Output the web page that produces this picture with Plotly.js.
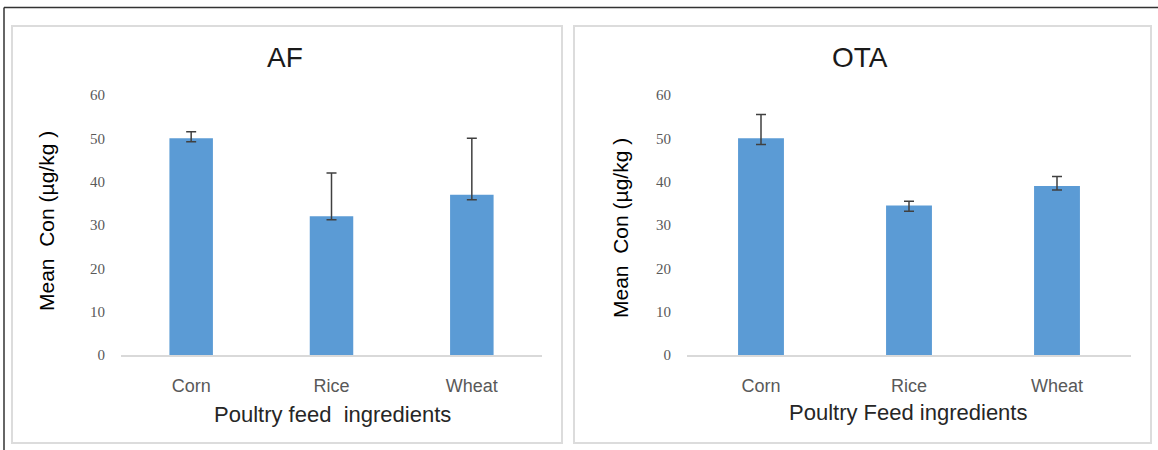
<!DOCTYPE html>
<html>
<head>
<meta charset="utf-8">
<script src="https://cdn.plot.ly/plotly-3.0.1.min.js"></script>
<style>html,body{margin:0;padding:0;background:#fff;}#chart{width:1158px;height:450px;}</style>
</head>
<body>
<div id="chart"></div>
<script>
// Data
const categories = ["Corn", "Rice", "Wheat"];
const afValues = [50, 32, 37];
const afErrPlus = [1.5, 10, 13];
const afErrMinus = [0.8, 0.8, 1.2];
const otaValues = [50, 34.5, 39];
const otaErrPlus = [5.5, 1, 2.2];
const otaErrMinus = [1.4, 1.3, 0.9];
const yTicks = [0, 10, 20, 30, 40, 50, 60];
const panelTitles = ["AF", "OTA"];
const xTitles = ["Poultry feed\u00a0 ingredients", "Poultry Feed ingredients"];
const yTitle = "Mean\u00a0 Con (\u00b5g/kg )";

const W = 1158, H = 450;
const px = v => v / W;
const py = v => 1 - v / H;

const barColor = "#5b9bd5";
const errStyle = {type: "data", symmetric: false, color: "#404040", thickness: 1.5, width: 5};

const traces = [
  {type: "bar", x: categories, y: afValues, xaxis: "x", yaxis: "y",
   marker: {color: barColor}, hoverinfo: "x+y",
   error_y: Object.assign({array: afErrPlus, arrayminus: afErrMinus}, errStyle)},
  {type: "bar", x: categories, y: otaValues, xaxis: "x2", yaxis: "y2",
   marker: {color: barColor}, hoverinfo: "x+y",
   error_y: Object.assign({array: otaErrPlus, arrayminus: otaErrMinus}, errStyle)}
];

const tickFont = {family: "Liberation Serif, Times New Roman, serif", size: 15, color: "#595959"};
const catFont = {family: "Liberation Sans, Arial, sans-serif", size: 18, color: "#595959"};

function xAxis(dom) {
  return {domain: dom, type: "category", showgrid: false, zeroline: false,
    showline: true, linecolor: "#d9d9d9", linewidth: 1.5, ticks: "",
    tickfont: catFont, ticklabelstandoff: 14, automargin: false, fixedrange: true};
}
function yAxis(anchor) {
  return {domain: [py(355), py(95)], range: [0, 60], tickvals: yTicks, anchor: anchor,
    showgrid: false, zeroline: false, showline: false, ticks: "",
    tickfont: tickFont, ticklabelstandoff: 15, automargin: false, fixedrange: true};
}

const annFont = (s, c) => ({family: "Liberation Sans, Arial, sans-serif", size: s, color: c});
const annotations = [
  {text: panelTitles[0], x: px(285), y: py(57), xref: "paper", yref: "paper", showarrow: false, font: annFont(28, "#1a1a1a"), xanchor: "center", yanchor: "middle"},
  {text: panelTitles[1], x: px(860), y: py(57), xref: "paper", yref: "paper", showarrow: false, font: annFont(28, "#1a1a1a"), xanchor: "center", yanchor: "middle"},
  {text: xTitles[0], x: px(332), y: py(414), xref: "paper", yref: "paper", showarrow: false, font: annFont(22, "#262626"), xanchor: "center", yanchor: "middle"},
  {text: xTitles[1], x: px(908), y: py(412), xref: "paper", yref: "paper", showarrow: false, font: annFont(22, "#262626"), xanchor: "center", yanchor: "middle"},
  {text: yTitle, x: px(47), y: py(221), xref: "paper", yref: "paper", showarrow: false, textangle: -90, font: annFont(21, "#000000"), xanchor: "center", yanchor: "middle"},
  {text: yTitle, x: px(620), y: py(228), xref: "paper", yref: "paper", showarrow: false, textangle: -90, font: annFont(21, "#000000"), xanchor: "center", yanchor: "middle"}
];

const shapes = [
  {type: "rect", xref: "paper", yref: "paper", x0: px(12), x1: px(562), y0: py(443), y1: py(26), line: {color: "#dcdcdc", width: 2}},
  {type: "rect", xref: "paper", yref: "paper", x0: px(574), x1: px(1151), y0: py(443), y1: py(26), line: {color: "#dcdcdc", width: 2}},
  {type: "line", xref: "paper", yref: "paper", x0: px(4), x1: 1, y0: py(7.5), y1: py(7.5), line: {color: "#333333", width: 1.5}},
  {type: "line", xref: "paper", yref: "paper", x0: px(4), x1: px(4), y0: py(7.5), y1: 0, line: {color: "#333333", width: 1.5}}
];

const layout = {
  width: W, height: H, margin: {l: 0, r: 0, t: 0, b: 0},
  paper_bgcolor: "#ffffff", plot_bgcolor: "#ffffff",
  showlegend: false, bargap: 0.69,
  xaxis: xAxis([px(121), px(542)]),
  yaxis: yAxis("x"),
  xaxis2: xAxis([px(687), px(1131)]),
  yaxis2: yAxis("x2"),
  annotations: annotations, shapes: shapes
};

Plotly.newPlot("chart", traces, layout, {displayModeBar: false, staticPlot: true});
</script>
</body>
</html>
